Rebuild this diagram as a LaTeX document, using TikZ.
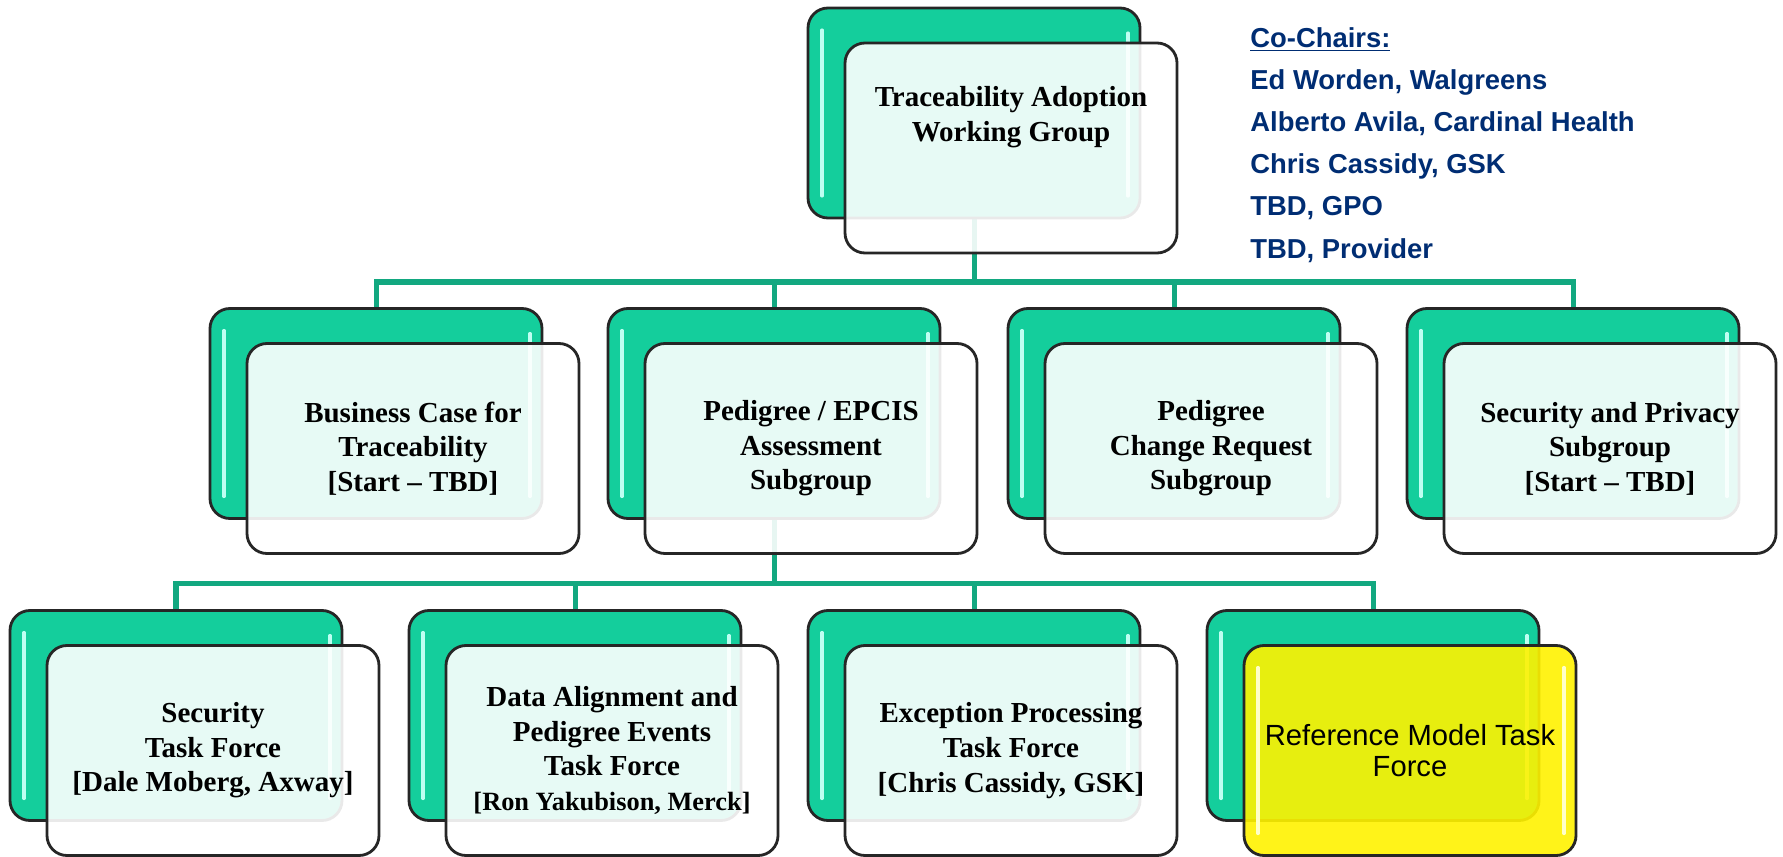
\documentclass[tikz,border=0pt]{standalone}
\usepackage{fontspec}
\setmainfont{Liberation Serif}
\newfontfamily\arialfont{Liberation Sans}
\usetikzlibrary{calc}
\usetikzlibrary{backgrounds}
\definecolor{boxgreen}{RGB}{20,206,156}
\definecolor{linkgreen}{RGB}{18,168,128}
\definecolor{glossgreen}{RGB}{190,255,242}
\definecolor{glossyellow}{RGB}{255,255,200}
\definecolor{chairblue}{RGB}{0,45,115}
\tikzset{
  boxbase/.style={rounded corners=0.4cm, minimum width=6.64cm, minimum height=4.2cm,
    inner sep=0pt, draw=black!85, line width=1.6pt},
  back/.style={boxbase, fill=boxgreen, path picture={
      \draw[glossgreen, line width=1.8pt, line cap=round]
        ($(path picture bounding box.north west)+(0.28,-0.44)$) -- ($(path picture bounding box.south west)+(0.28,0.44)$)
        ($(path picture bounding box.north east)+(-0.24,-0.5)$) -- ($(path picture bounding box.south east)+(-0.24,0.44)$);}},
  front/.style={boxbase, fill=white, fill opacity=0.9, text opacity=1, align=center,
    font=\bfseries\fontsize{16.5}{19.7}\selectfont},
  boxtext/.style={align=center, inner sep=0pt, font=\bfseries\fontsize{16.5}{19.7}\selectfont},
  hilite/.style={boxbase, fill=yellow, fill opacity=0.9, text opacity=1, align=center,
    font=\arialfont\fontsize{16.6}{17.6}\selectfont, path picture={
      \draw[glossyellow, line width=1.8pt, line cap=round]
        ($(path picture bounding box.north west)+(0.28,-0.44)$) -- ($(path picture bounding box.south west)+(0.28,0.44)$)
        ($(path picture bounding box.north east)+(-0.24,-0.44)$) -- ($(path picture bounding box.south east)+(-0.24,0.44)$);}},
  chairs/.style={anchor=base west, align=left, inner sep=0pt, text=chairblue,
    font=\arialfont\bfseries\fontsize{15.6}{24}\selectfont},
  link/.style={draw=linkgreen, line width=2.85pt, line join=miter}
}

\begin{document}
\begin{tikzpicture}
    \useasboundingbox (0,0) rectangle (35.66,-17.12);

    % working group
    \node[back] (wgb) at (19.48,-2.26) {};
    \node[front] (wgf) at (20.22,-2.96) {};
    \node[boxtext] (wgt) at (20.22,-2.34) {Traceability Adoption\\Working Group};

    % co-chairs (base = last line)
    \node[chairs] (chairs) at (25.0,-5.16) {\underline{Co-Chairs:}\\Ed Worden, Walgreens\\Alberto Avila, Cardinal Health\\Chris Cassidy, GSK\\TBD, GPO\\TBD, Provider};

    % subgroups
    \node[back] (bcb) at (7.52,-8.27) {};
    \node[front] (bcf) at (8.26,-8.97) {Business Case for\\Traceability\\{[Start \textendash\ TBD]}};
    \node[back] (peb) at (15.48,-8.27) {};
    \node[front] (pef) at (16.22,-8.97) {Pedigree / EPCIS\\Assessment\\Subgroup};
    \node[back] (crb) at (23.48,-8.27) {};
    \node[front] (crf) at (24.22,-8.97) {Pedigree\\Change Request\\Subgroup};
    \node[back] (spb) at (31.46,-8.27) {};
    \node[front] (spf) at (32.20,-8.97) {Security and Privacy\\Subgroup\\{[Start \textendash\ TBD]}};

    % task forces
    \node[back] (secb) at (3.52,-14.31) {};
    \node[front] (secf) at (4.26,-15.01) {Security\\Task Force\\{[Dale Moberg, Axway]}};
    \node[back] (dab) at (11.50,-14.31) {};
    \node[front] (daf) at (12.24,-15.01) {Data Alignment and\\Pedigree Events\\Task Force\\{\fontsize{15}{19.7}\selectfont[Ron Yakubison, Merck]}};
    \node[back] (exb) at (19.48,-14.31) {};
    \node[front] (exf) at (20.22,-15.01) {Exception Processing\\Task Force\\{[Chris Cassidy, GSK]}};
    \node[back] (rmb) at (27.46,-14.31) {};
    \node[hilite] (rmf) at (28.20,-15.01) {Reference Model Task\\Force};

    \coordinate (bus1) at (19.48,-5.64);
    \coordinate (bus2) at (15.48,-11.66);

    \begin{scope}[on background layer]
        % working group to subgroups
        \draw[link] (wgb.south) -- (bus1);
        \draw[link] (bus1) -| (bcb.north);
        \draw[link] (bus1) -| (peb.north);
        \draw[link] (bus1) -| (crb.north);
        \draw[link] (bus1) -| (spb.north);
        % pedigree / epcis to task forces
        \draw[link] (peb.south) -- (bus2);
        \draw[link] (bus2) -| (secb.north);
        \draw[link] (bus2) -| (dab.north);
        \draw[link] (bus2) -| (exb.north);
        \draw[link] (bus2) -| (rmb.north);
    \end{scope}
\end{tikzpicture}
\end{document}
